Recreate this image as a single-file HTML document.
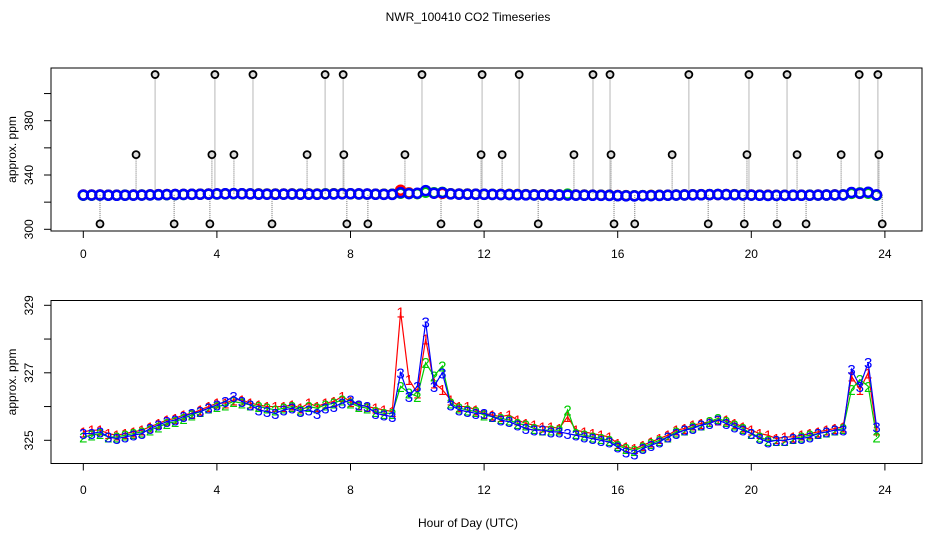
<!DOCTYPE html>
<html><head><meta charset="utf-8"><style>
body{margin:0;background:#fff}
svg{font-family:"Liberation Sans",sans-serif}
</style></head><body>
<svg id="c" width="936" height="540" viewBox="0 0 936 540">
<text x="468" y="21" text-anchor="middle" font-size="12">NWR_100410  CO2 Timeseries</text>
<text x="468" y="527" text-anchor="middle" font-size="12">Hour of Day (UTC)</text>
<g id="topPanel"></g>
<g id="botPanel"></g>
</svg>
<script>
const hours = [];
for (let i = 0; i < 96; i++) hours.push(i * 0.25);
const series1 = [325.25,325.3,325.3,325.2,325.15,325.2,325.25,325.3,325.4,325.5,325.6,325.65,
325.75,325.8,325.9,326.0,326.1,326.1,326.2,326.2,326.1,326.05,326.0,326.0,
326.0,326.05,325.95,326.1,326.0,326.1,326.15,326.3,326.15,326.05,326.0,325.95,
325.9,325.85,328.8,326.8,326.4,328.0,326.7,326.5,326.2,326.0,326.0,325.9,
325.8,325.75,325.7,325.75,325.6,325.5,325.45,325.4,325.4,325.35,325.7,325.3,
325.25,325.2,325.15,325.1,324.9,324.8,324.75,324.85,324.95,325.05,325.15,325.3,
325.35,325.45,325.5,325.55,325.6,325.6,325.5,325.4,325.3,325.2,325.15,325.05,
325.1,325.1,325.15,325.2,325.25,325.3,325.35,325.4,326.9,326.5,327.0,325.3];
const series2 = [325.1,325.15,325.2,325.1,325.1,325.15,325.2,325.25,325.3,325.4,325.5,325.55,
325.65,325.75,325.85,325.95,326.0,326.05,326.15,326.1,326.05,326.0,325.95,325.9,
325.95,326.0,325.9,326.0,325.95,326.05,326.1,326.2,326.1,326.0,325.95,325.85,
325.8,325.8,326.6,326.4,326.3,327.3,326.9,327.2,326.1,325.95,325.9,325.85,
325.75,325.7,325.65,325.6,325.5,325.45,325.35,325.3,325.3,325.3,325.9,325.2,
325.15,325.1,325.05,325.0,324.85,324.75,324.7,324.8,324.9,325.0,325.1,325.25,
325.3,325.4,325.45,325.55,325.65,325.55,325.45,325.35,325.2,325.1,325.0,325.0,
325.0,325.05,325.1,325.15,325.2,325.25,325.3,325.35,326.5,326.8,326.6,325.1];
const series3 = [325.2,325.2,325.25,325.1,325.05,325.1,325.15,325.2,325.35,325.45,325.55,325.6,
325.7,325.8,325.85,325.95,326.05,326.15,326.3,326.15,326.05,325.9,325.85,325.8,
325.9,325.95,325.85,325.9,325.8,325.95,326.0,326.1,326.2,326.05,326.0,325.8,
325.75,325.7,327.0,326.3,326.6,328.5,326.6,327.0,326.05,325.9,325.85,325.8,
325.8,325.7,325.6,325.55,325.45,325.35,325.3,325.3,325.25,325.25,325.2,325.15,
325.1,325.05,325.0,324.95,324.8,324.65,324.6,324.75,324.85,324.95,325.1,325.2,
325.3,325.35,325.45,325.5,325.6,325.5,325.4,325.3,325.2,325.05,324.95,325.0,
325.0,325.05,325.05,325.1,325.2,325.25,325.3,325.3,327.1,326.6,327.3,325.4];
const spikeHours = [2.15,3.94,5.08,7.24,7.78,10.14,11.94,13.05,15.26,15.77,18.13,19.93,21.07,23.23,23.79,
1.58,3.85,4.51,6.70,7.80,9.63,11.91,12.54,14.69,15.80,17.63,19.87,21.37,22.69,23.82,
0.5,2.72,3.79,5.65,7.89,8.52,10.71,11.82,13.62,15.89,16.51,18.71,19.79,20.77,21.64,23.92];
const spikeValues = [414,414,414,414,414,414,414,414,414,414,414,414,414,414,414,
355,355,355,355,355,355,355,355,355,355,355,355,355,355,355,
304,304,304,304,304,304,304,304,304,304,304,304,304,304,304,304];
const xTicks = [0,4,8,12,16,20,24];
const topYTicks = [300,320,340,360,380,400];
const topYLabels = [300,340,380];
const botYTicks = [325,326,327,328,329];
const botYLabels = [325,327,329];

const NS = "http://www.w3.org/2000/svg";
function mk(parent, tag, attrs) {
  const e = document.createElementNS(NS, tag);
  for (const k in attrs) e.setAttribute(k, attrs[k]);
  parent.appendChild(e);
  return e;
}
const xs = h => 83.3 + h * 33.4;
const yTop = v => 229.3 - (v - 300) * 1.3575;
const yBot = v => 440.3 - (v - 325) * 33.75;
const colors = ["#ff0000", "#00cc00", "#0000ff"];
const allSeries = [series1, series2, series3];

function axes(g, y0, y1, yfn, ticks, labels, tickLabelY) {
  const box = mk(g, "rect", {x: 51, y: y0, width: 871, height: y1 - y0, fill: "none", stroke: "#000", "stroke-width": 1});
  
  
  xTicks.forEach(t => {
    const l = mk(g, "line", {x1: xs(t), x2: xs(t), y1: y1, y2: y1 + 7, stroke: "#000"});
    
    
    const tx = mk(g, "text", {x: xs(t), y: tickLabelY, "text-anchor": "middle", "font-size": 12});
    
    
    tx.textContent = t;
  });
  ticks.forEach(t => {
    const l = mk(g, "line", {x1: 44, x2: 51, y1: yfn(t), y2: yfn(t), stroke: "#000"});
    
    
  });
  labels.forEach(t => {
    const tx = mk(g, "text", {x: 0, y: 0, "text-anchor": "middle", "font-size": 12, transform: `translate(33,${yfn(t)}) rotate(-90)`});
    
    
    tx.textContent = t;
  });
  const ti = mk(g, "text", {x: 0, y: 0, "text-anchor": "middle", "font-size": 12, transform: `translate(16,${(y0 + y1) / 2}) rotate(-90)`});
  
  
  ti.textContent = "approx. ppm";
}

const topG = document.getElementById("topPanel");
axes(topG, 68, 231, yTop, topYTicks, topYLabels, 258);
spikeHours.forEach((h, i) => {
  const l = mk(topG, "line", {x1: xs(h), x2: xs(h), y1: yTop(spikeValues[i]), y2: yTop(326), stroke: "#888", "stroke-width": 1.2, "stroke-dasharray": "1,1"});
  
  
});
allSeries.forEach((s, k) => {
  s.forEach((v, i) => {
    const c = mk(topG, "circle", {cx: xs(hours[i]), cy: yTop(v), r: 4.5, fill: "none", stroke: colors[k], "stroke-width": 2.5});
    
    
  });
});
spikeHours.forEach((h, i) => {
  const c = mk(topG, "circle", {cx: xs(h), cy: yTop(spikeValues[i]), r: 3.5, fill: "#ddd", stroke: "#000", "stroke-width": 1.8});
  
  
});

const botG = document.getElementById("botPanel");
axes(botG, 300.5, 463.5, yBot, botYTicks, botYLabels, 494);
allSeries.forEach((s, k) => {
  const p = mk(botG, "polyline", {points: s.map((v, i) => xs(hours[i]) + "," + yBot(v)).join(" "), fill: "none", stroke: colors[k], "stroke-width": 1.2});
  
  
  s.forEach((v, i) => {
    const t = mk(botG, "text", {x: xs(hours[i]), y: yBot(v) + 5.5, "text-anchor": "middle", "font-size": 15, fill: colors[k]});
    
    
    t.textContent = String(k + 1);
  });
});
</script>
</body></html>
